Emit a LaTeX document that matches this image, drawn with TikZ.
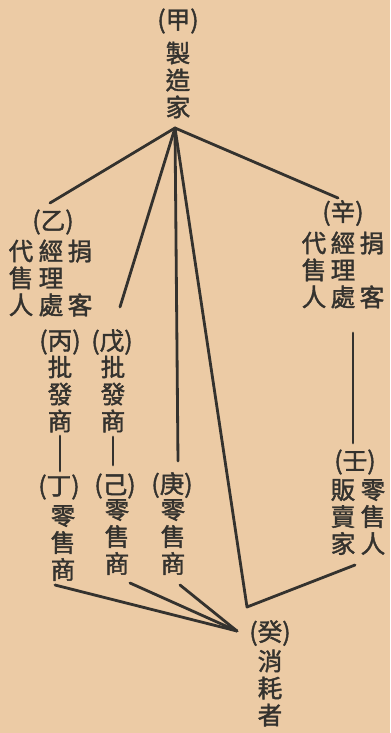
\documentclass[tikz,border=0pt]{standalone}
\usepackage{fontspec}
\newfontfamily\cjkfont{Noto Sans CJK TC}[AutoFakeBold = 1.6]
\definecolor{paper}{RGB}{236,203,165}
\definecolor{ink}{RGB}{52,50,46}

\begin{document}
\begin{tikzpicture} [x = 0.025cm, y = -0.025cm,
  zi/.style = {font = \cjkfont\bfseries\fontsize{17.5}{19.2}\selectfont, text = ink, align = center, inner sep = 0pt},
  xian/.style = {draw = ink, line width = 2pt, line cap = round, line join = round}]
\fill[paper] (0, 0) rectangle (390, 733);
\useasboundingbox (0, 0) rectangle (390, 733);
\node[zi] (jia) at (178, 21) {(甲)};
\node[zi] (jiaT) at (178, 80) {製\\造\\家};
\node[zi] (yi) at (53, 222) {(乙)};
\node[zi] (yiA) at (21, 278) {代\\售\\人};
\node[zi] (yiB) at (51, 278) {經\\理\\處};
\node[zi] (yiC) at (80, 278) {捐\\\phantom{客}\\客};
\node[zi] (xin) at (343, 213) {(辛)};
\node[zi] (xinA) at (314, 270) {代\\售\\人};
\node[zi] (xinB) at (343, 270) {經\\理\\處};
\node[zi] (xinC) at (372, 270) {捐\\\phantom{客}\\客};
\node[zi] (bing) at (60, 342) {(丙)};
\node[zi] (bingT) at (60, 394) {批\\發\\商};
\node[zi] (wu) at (112, 342) {(戊)};
\node[zi] (wuT) at (113, 394) {批\\發\\商};
\node[zi] (ding) at (59, 487) {(丁)};
\node[zi] (dingT) at (63, 543) {零\\售\\商};
\node[zi] (ji) at (115, 486) {(己)};
\node[zi] (jiT) at (117, 537) {零\\售\\商};
\node[zi] (geng) at (172, 485) {(庚)};
\node[zi] (gengT) at (173, 537) {零\\售\\商};
\node[zi] (ren) at (355, 462) {(壬)};
\node[zi] (renA) at (343, 517) {販\\賣\\家};
\node[zi] (renB) at (373, 517) {零\\售\\人};
\node[zi] (gui) at (270, 633) {(癸)};
\node[zi] (guiT) at (270, 688) {消\\耗\\者};
\coordinate (apex) at (175, 128);
\coordinate (yiEnd) at (50, 203);
\coordinate (xinEnd) at (338, 198);
\coordinate (wuEnd) at (120, 307);
\coordinate (gengEnd) at (178, 461);
\coordinate (guiCorner) at (247, 607);
\coordinate (renEnd) at (355, 565);
\coordinate (meet) at (237, 631);
\draw[xian] (apex) -- (yiEnd);
\draw[xian] (apex) -- (xinEnd);
\draw[xian] (apex) -- (wuEnd);
\draw[xian] (apex) -- (gengEnd);
\draw[xian] (apex) -- (guiCorner) -- (renEnd);
\draw[xian] (60, 436) -- (60, 471);
\draw[xian] (113, 437) -- (113, 465);
\draw[xian] (353, 333) -- (353, 443);
\draw[xian] (55, 585) -- (meet);
\draw[xian] (130, 583) -- (meet);
\draw[xian] (180, 585) -- (meet);
\end{tikzpicture}
\end{document}
